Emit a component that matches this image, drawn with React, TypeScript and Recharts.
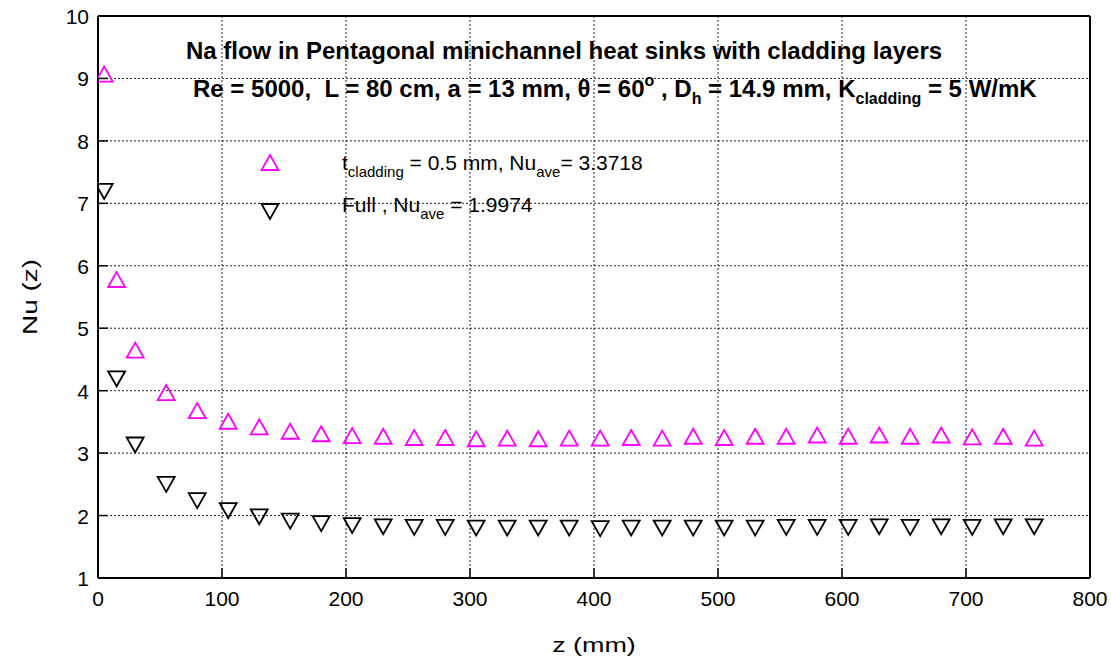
// Na flow in pentagonal minichannel: local Nusselt number along z
import { ScatterChart, Scatter, XAxis, YAxis, CartesianGrid } from 'recharts';

const zPositions = [5, 15, 30, 55, 80, 105, 130, 155, 180, 205, 230, 255, 280, 305, 330, 355, 380, 405, 430, 455, 480, 505, 530, 555, 580, 605, 630, 655, 680, 705, 730, 755];
const nuCladding05 = [9.03, 5.74, 4.61, 3.93, 3.64, 3.47, 3.38, 3.31, 3.27, 3.24, 3.23, 3.21, 3.21, 3.19, 3.2, 3.19, 3.2, 3.2, 3.21, 3.2, 3.23, 3.21, 3.23, 3.23, 3.25, 3.23, 3.25, 3.23, 3.25, 3.22, 3.23, 3.2];
const nuFull = [7.23, 4.23, 3.17, 2.54, 2.28, 2.12, 2.02, 1.95, 1.91, 1.88, 1.86, 1.85, 1.85, 1.84, 1.84, 1.84, 1.84, 1.83, 1.84, 1.84, 1.84, 1.84, 1.84, 1.85, 1.85, 1.85, 1.86, 1.85, 1.86, 1.85, 1.86, 1.86];

const xTicks = [0, 100, 200, 300, 400, 500, 600, 700, 800];
const yTicks = [1, 2, 3, 4, 5, 6, 7, 8, 9, 10];
const xMinor = Array.from({ length: 41 }, (_, i) => i * 20).filter((v) => v % 100 !== 0);
const yMinor = [1.5, 2.5, 3.5, 4.5, 5.5, 6.5, 7.5, 8.5, 9.5];

const cladData = zPositions.map((z, i) => ({ z, nu: nuCladding05[i] }));
const fullData = zPositions.map((z, i) => ({ z, nu: nuFull[i] }));

const FONT = '"Liberation Sans", Arial, sans-serif';
const MAGENTA = '#ff00ff';
const W = 1111;
const H = 658;
// each axis below is 1px thick, so plot area = 98..1090 x 16..578
const MARGIN = { top: 15, right: 20, bottom: 78, left: 96 };

const isMajorX = (v: number) => v % 100 === 0;
const isMajorY = (v: number) => Number.isInteger(v);

function UpTriangle({ cx, cy }: any) {
  const w = 17, h = 15;
  return (
    <polygon
      points={`${cx},${cy - (2 * h) / 3} ${cx - w / 2},${cy + h / 3} ${cx + w / 2},${cy + h / 3}`}
      fill="none" stroke={MAGENTA} strokeWidth={1.8}
    />
  );
}

function DownTriangle({ cx, cy }: any) {
  const w = 17, h = 15;
  return (
    <polygon
      points={`${cx},${cy + (2 * h) / 3} ${cx - w / 2},${cy - h / 3} ${cx + w / 2},${cy - h / 3}`}
      fill="none" stroke="#000" strokeWidth={1.8}
    />
  );
}

function BottomTick({ x, y, payload }: any) {
  const major = isMajorX(payload.value);
  return (
    <g>
      <line x1={x} x2={x} y1={y} y2={y - (major ? 10 : 6)} stroke="#000" strokeWidth={1.5} />
      {major && (
        <text x={x} y={y + 28} textAnchor="middle" fontSize={21} fontFamily={FONT} fill="#000">
          {payload.value}
        </text>
      )}
    </g>
  );
}

function TopTick({ x, y, payload }: any) {
  const major = isMajorX(payload.value);
  return <line x1={x} x2={x} y1={y} y2={y + (major ? 10 : 6)} stroke="#000" strokeWidth={1.5} />;
}

function LeftTick({ x, y, payload }: any) {
  const major = isMajorY(payload.value);
  return (
    <g>
      <line x1={x} x2={x + (major ? 10 : 6)} y1={y} y2={y} stroke="#000" strokeWidth={1.5} />
      {major && (
        <text x={x - 9} y={y + 8} textAnchor="end" fontSize={21} fontFamily={FONT} fill="#000">
          {payload.value}
        </text>
      )}
    </g>
  );
}

function RightTick({ x, y, payload }: any) {
  const major = isMajorY(payload.value);
  return <line x1={x} x2={x - (major ? 10 : 6)} y1={y} y2={y} stroke="#000" strokeWidth={1.5} />;
}

const sub = (size: number, top: number): React.CSSProperties => ({ fontSize: size, position: 'relative', top, verticalAlign: 'baseline' });

export default function App() {
  const abs: React.CSSProperties = { position: 'absolute', whiteSpace: 'nowrap', color: '#000' };
  return (
    <div style={{ position: 'absolute', left: 0, top: 0, width: W, height: H, background: '#fff', fontFamily: FONT }}>
      <ScatterChart width={W} height={H} margin={MARGIN}>
        <CartesianGrid xAxisId="x" yAxisId="y" stroke="#222" strokeDasharray="2 2" strokeWidth={1} />
        <XAxis xAxisId="x" dataKey="z" type="number" domain={[0, 800]} ticks={xTicks} interval={0}
          height={1} tickSize={0} tickMargin={0} tick={<BottomTick />}
          axisLine={{ stroke: '#000', strokeWidth: 2 }} tickLine={false} allowDataOverflow />
        <XAxis xAxisId="xm" type="number" domain={[0, 800]} ticks={xMinor} interval={0}
          height={1} tickSize={0} tickMargin={0} tick={<BottomTick />} axisLine={false} tickLine={false} />
        <XAxis xAxisId="xt" orientation="top" type="number" domain={[0, 800]} ticks={[...xTicks, ...xMinor]} interval={0}
          height={1} tickSize={0} tickMargin={0} tick={<TopTick />}
          axisLine={{ stroke: '#000', strokeWidth: 2 }} tickLine={false} />
        <YAxis yAxisId="y" dataKey="nu" type="number" domain={[1, 10]} ticks={yTicks} interval={0}
          width={1} tickSize={0} tickMargin={0} tick={<LeftTick />}
          axisLine={{ stroke: '#000', strokeWidth: 2 }} tickLine={false} allowDataOverflow />
        <YAxis yAxisId="ym" type="number" domain={[1, 10]} ticks={yMinor} interval={0}
          width={1} tickSize={0} tickMargin={0} tick={<LeftTick />} axisLine={false} tickLine={false} />
        <YAxis yAxisId="yr" orientation="right" type="number" domain={[1, 10]} ticks={[...yTicks, ...yMinor]} interval={0}
          width={1} tickSize={0} tickMargin={0} tick={<RightTick />}
          axisLine={{ stroke: '#000', strokeWidth: 2 }} tickLine={false} />
        <Scatter name="t_cladding = 0.5 mm" data={cladData} xAxisId="x" yAxisId="y"
          shape={<UpTriangle />} isAnimationActive={false} />
        <Scatter name="Full" data={fullData} xAxisId="x" yAxisId="y"
          shape={<DownTriangle />} isAnimationActive={false} />
      </ScatterChart>

      {/* title */}
      <div style={{ ...abs, left: 0, width: 1128, top: 37, textAlign: 'center', fontWeight: 'bold', fontSize: 24 }}>
        Na flow in Pentagonal minichannel heat sinks with cladding layers
      </div>
      <div style={{ ...abs, left: 193, top: 75, fontWeight: 'bold', fontSize: 24 }}>
        Re = 5000,&nbsp; L = 80 cm, a = 13 mm, θ = 60<span style={sub(16, -11)}>o</span> , D<span style={sub(16, 7)}>h</span> = 14.9 mm, K<span style={sub(16, 7)}>cladding</span> = 5 W/mK
      </div>

      {/* legend */}
      <svg width={W} height={H} style={{ position: 'absolute', left: 0, top: 0, pointerEvents: 'none' }}>
        <UpTriangle cx={270} cy={165} />
        <DownTriangle cx={270} cy={209} />
      </svg>
      <div style={{ ...abs, left: 342, top: 151, fontSize: 21 }}>
        t<span style={sub(15, 7)}>cladding</span> = 0.5 mm, Nu<span style={sub(15, 7)}>ave</span>= 3.3718
      </div>
      <div style={{ ...abs, left: 342, top: 193, fontSize: 21 }}>
        Full , Nu<span style={sub(15, 7)}>ave</span> = 1.9974
      </div>

      {/* axis titles */}
      <div style={{ ...abs, left: 30, top: 297, transform: 'translate(-50%, -50%) rotate(-90deg) scaleX(1.33)', fontSize: 21 }}>
        Nu (z)
      </div>
      <div style={{ ...abs, left: 594, top: 645, transform: 'translate(-50%, -50%) scaleX(1.28)', fontSize: 21 }}>
        z (mm)
      </div>
    </div>
  );
}
